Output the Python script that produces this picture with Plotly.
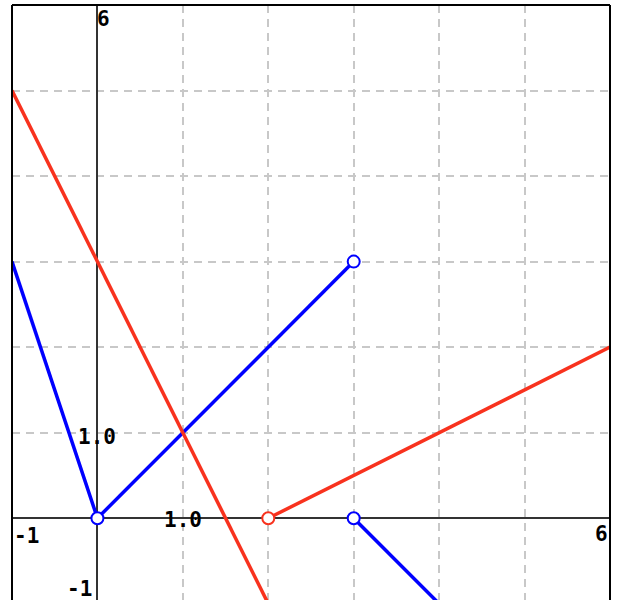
import plotly.graph_objects as go

# Data
blue_seg1_x = [-1, 0]
blue_seg1_y = [3, 0]
blue_seg2_x = [0, 3]
blue_seg2_y = [0, 3]
blue_seg3_x = [3, 4]
blue_seg3_y = [0, -1]
red_seg1_x = [-1, 2]
red_seg1_y = [5, -1]
red_seg2_x = [2, 6]
red_seg2_y = [0, 2]
blue_open_x = [0, 3, 3]
blue_open_y = [0, 3, 0]
red_open_x = [2]
red_open_y = [0]

BLUE = "#0000ff"
RED = "#f8321e"

fig = go.Figure()
for xs, ys in [(blue_seg1_x, blue_seg1_y), (blue_seg2_x, blue_seg2_y), (blue_seg3_x, blue_seg3_y)]:
    fig.add_trace(go.Scatter(x=xs, y=ys, mode="lines", line=dict(color=BLUE, width=3.5), hoverinfo="skip"))
for xs, ys in [(red_seg1_x, red_seg1_y), (red_seg2_x, red_seg2_y)]:
    fig.add_trace(go.Scatter(x=xs, y=ys, mode="lines", line=dict(color=RED, width=3.5), hoverinfo="skip"))
fig.add_trace(go.Scatter(x=blue_open_x, y=blue_open_y, mode="markers", cliponaxis=False,
                         marker=dict(size=12, color="white", line=dict(color=BLUE, width=2))))
fig.add_trace(go.Scatter(x=red_open_x, y=red_open_y, mode="markers", cliponaxis=False,
                         marker=dict(size=12, color="white", line=dict(color=RED, width=2))))

font = dict(family="DejaVu Sans Mono", size=21, color="black")
labels = [
    dict(x=0, y=6, text="<b>6</b>", xanchor="left", yanchor="top", xshift=-2, yshift=0),
    dict(x=0, y=1, text="<b>1.0</b>", xanchor="center", yanchor="middle", yshift=-4),
    dict(x=1, y=0, text="<b>1.0</b>", xanchor="center", yanchor="middle", yshift=-2),
    dict(x=-1, y=0, text="<b>-1</b>", xanchor="left", yanchor="top", yshift=-4),
    dict(x=0, y=-0.95, text="<b>-1</b>", xanchor="right", yanchor="bottom", xshift=-3, yshift=-4),
    dict(x=6, y=0, text="<b>6</b>", xanchor="right", yanchor="top", yshift=-2),
]
for a in labels:
    fig.add_annotation(**a, showarrow=False, font=font)

axis_common = dict(
    dtick=1, tick0=0, showgrid=True, gridcolor="#c8c8c8", griddash="8px,6px", gridwidth=2,
    zeroline=True, zerolinecolor="#333333", zerolinewidth=2,
    showticklabels=False, ticks="", showline=False, fixedrange=True,
)
fig.update_xaxes(range=[-1, 6], **axis_common)
fig.update_yaxes(range=[-0.956, 6], **axis_common)

# frame (top, left, right)
frame = dict(type="line", xref="paper", yref="paper", line=dict(color="black", width=2))
fig.add_shape(**frame, x0=0, x1=1, y0=1, y1=1)
fig.add_shape(**frame, x0=0, x1=0, y0=0, y1=1)
fig.add_shape(**frame, x0=1, x1=1, y0=0, y1=1)

fig.update_layout(
    width=618, height=600, showlegend=False,
    margin=dict(l=12, r=8, t=5, b=0),
    plot_bgcolor="white", paper_bgcolor="white",
)
fig.write_html("out.html", config={"displayModeBar": False},
               post_script="document.body.style.margin='0';document.body.style.overflow='hidden';")
